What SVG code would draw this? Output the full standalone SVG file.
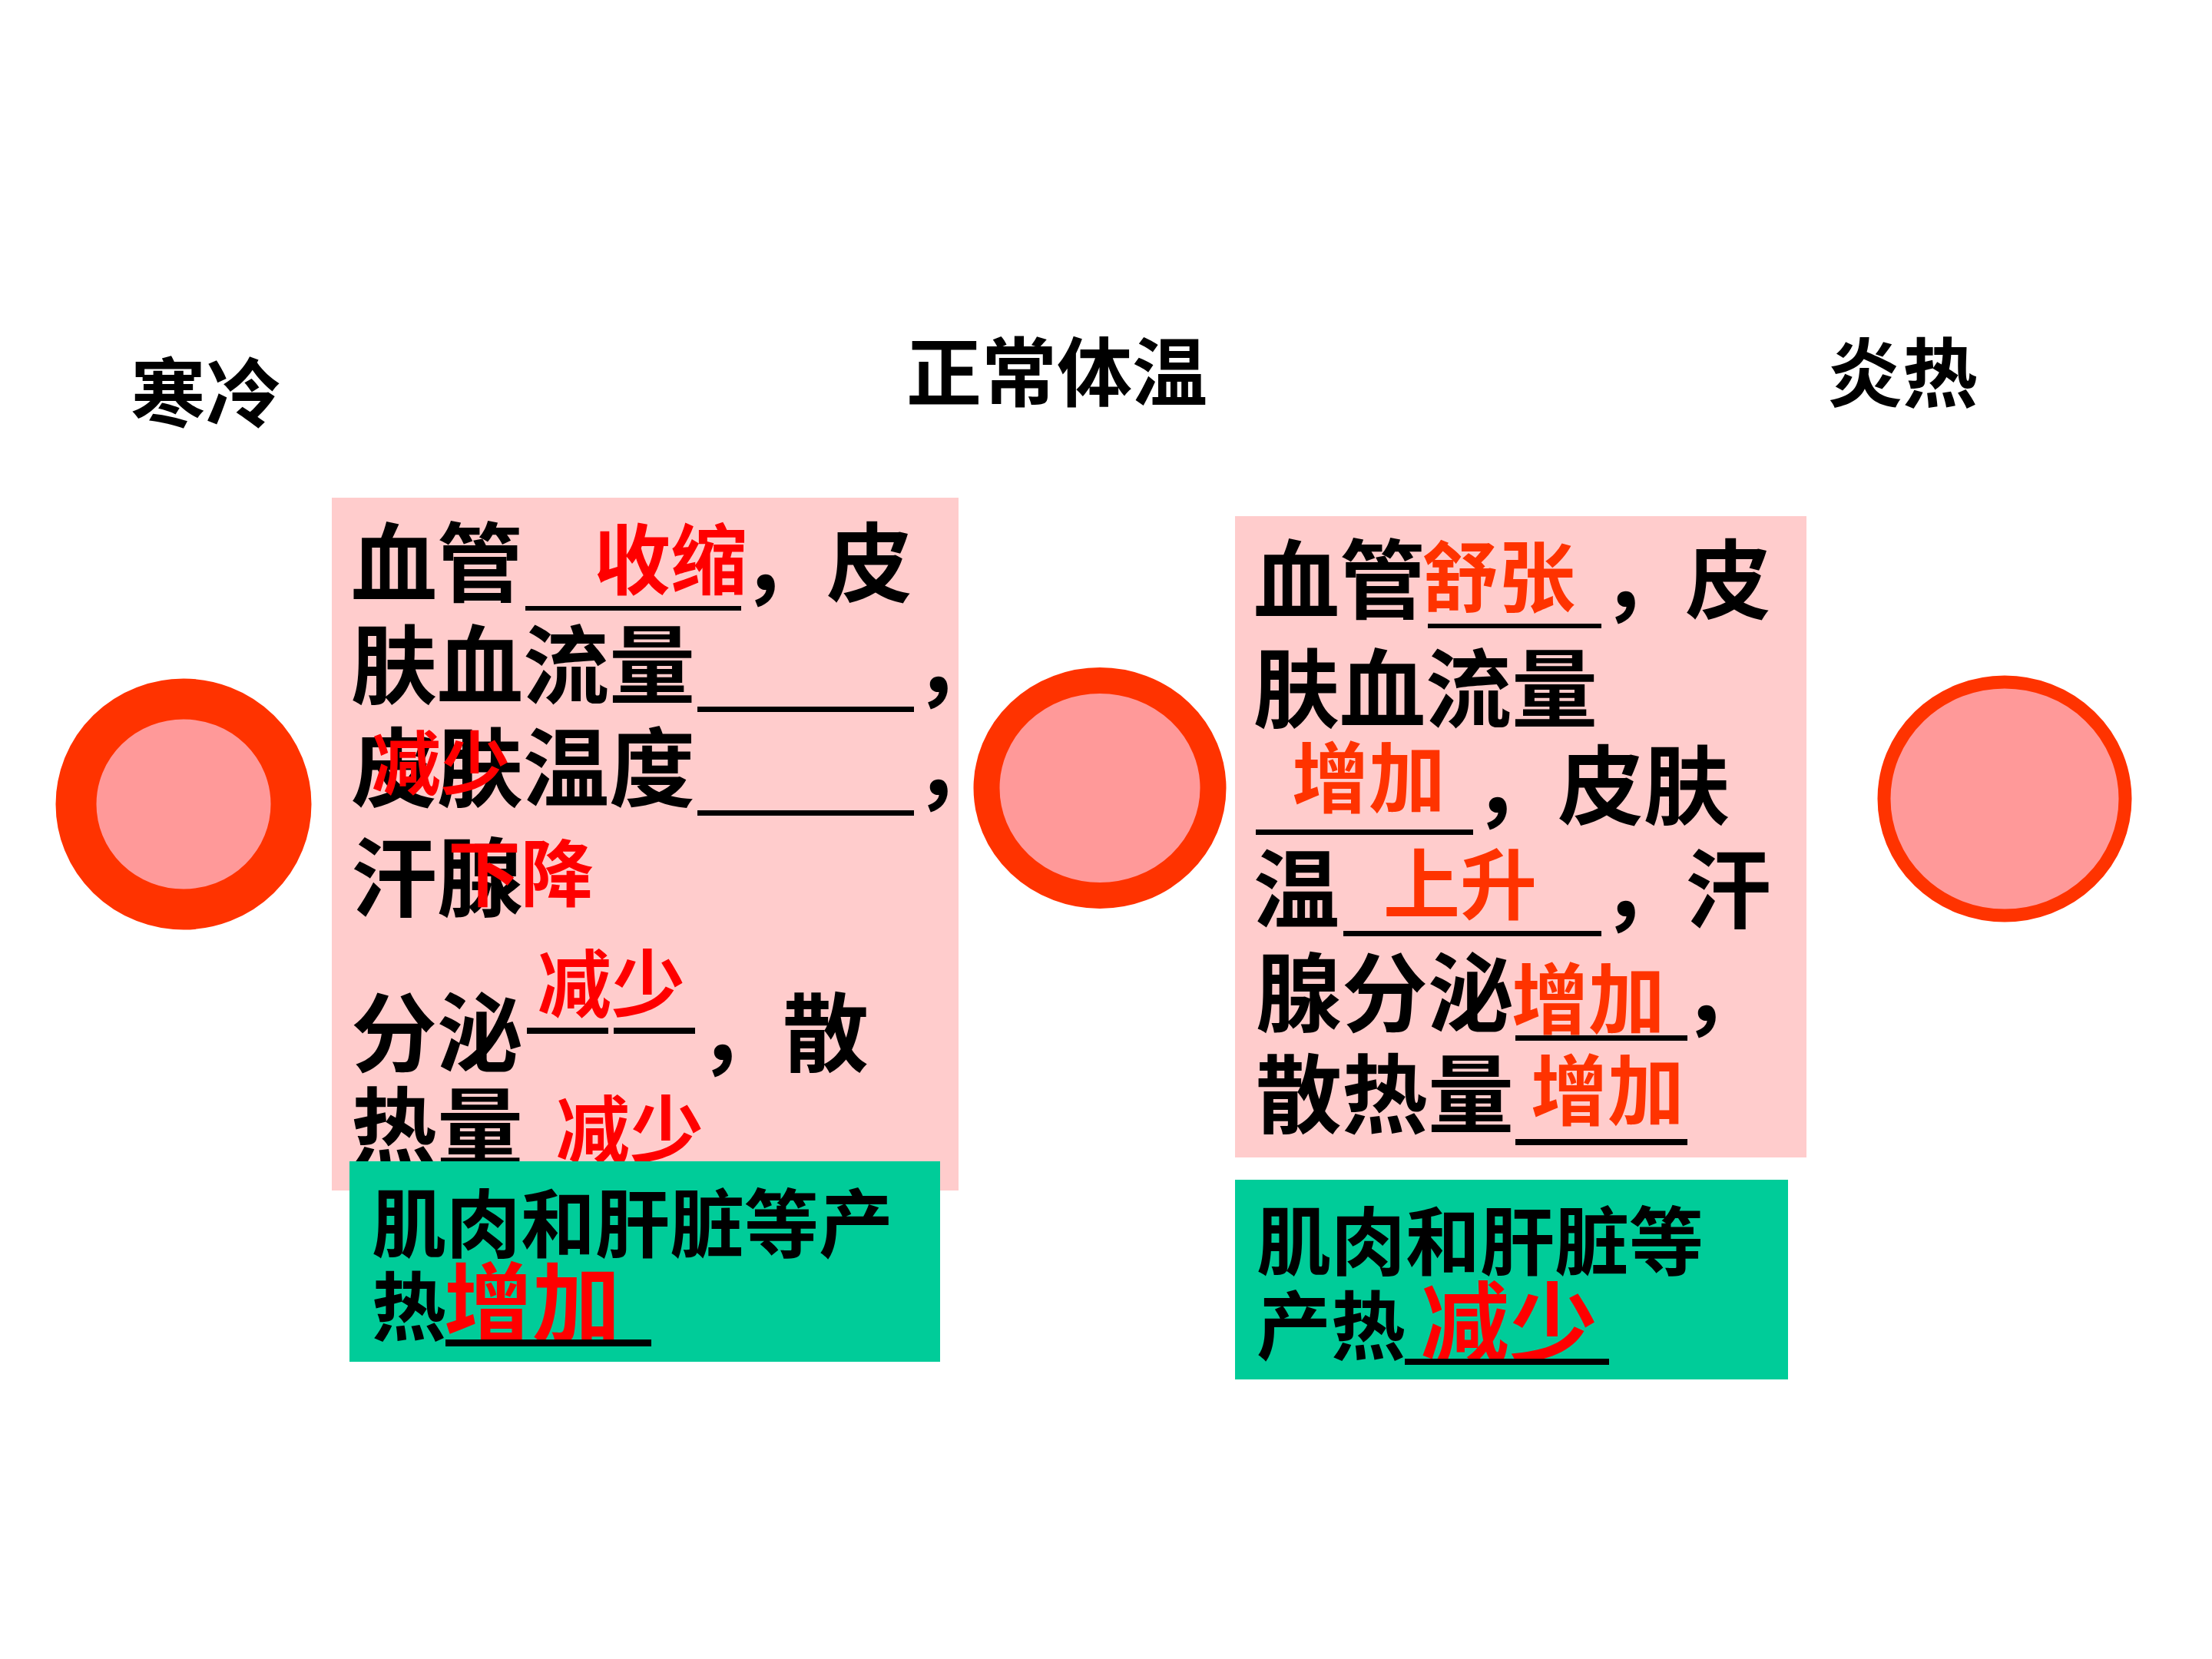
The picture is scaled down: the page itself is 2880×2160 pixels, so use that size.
<svg xmlns="http://www.w3.org/2000/svg" width="2880" height="2160" viewBox="0 0 2880 2160">
<style>
text{font-family:"Noto Sans CJK SC","Noto Sans CJK TC",sans-serif;}
.h{font-size:98px;font-weight:bold;fill:#000;}
.b{font-size:112px;font-weight:bold;fill:#000;}
.g{font-size:97px;font-weight:bold;fill:#000;}
.r{font-size:100px;font-weight:bold;fill:#FF0000;}
.o{font-size:100px;font-weight:bold;fill:#FF3300;}
.rb{font-size:115px;font-weight:bold;fill:#FF0000;}
.u{fill:#000;}
.pink{fill:#FFCCCC;}
.green{fill:#00CC99;}
.ring{fill:#FF9999;stroke:#FF3300;}
</style>
<rect width="2880" height="2160" fill="#FFFFFF"/>

<g id="headers">
<text class="h" x="170" y="548">寒冷</text>
<text class="h" x="1180" y="521">正常体温</text>
<text class="h" x="2379" y="522">炎热</text>
</g>

<g id="circle-cold">
<ellipse class="ring" cx="239" cy="1047" rx="140" ry="137" stroke-width="53"/>
</g>
<g id="circle-normal">
<ellipse class="ring" cx="1432" cy="1026" rx="147.5" ry="140" stroke-width="34"/>
</g>
<g id="circle-hot">
<ellipse class="ring" cx="2610" cy="1040" rx="157" ry="152" stroke-width="17"/>
</g>

<g id="cold-box">
<rect class="pink" x="432" y="648" width="816" height="902"/>
<text class="b" x="457" y="775">血管</text>
<rect class="u" x="684" y="789" width="281" height="6"/>
<text class="r" x="773" y="766">收缩</text>
<text class="b" x="965" y="775">，</text>
<text class="b" x="1076" y="775">皮</text>

<text class="b" x="457" y="908">肤血流量</text>
<rect class="u" x="908" y="920" width="282" height="7"/>
<text class="b" x="1190" y="908">，</text>

<text class="b" x="457" y="1042">皮肤温度</text>
<rect class="u" x="908" y="1055" width="282" height="7"/>
<text class="b" x="1190" y="1042">，</text>
<text class="r" x="484" y="1027" style="font-size:90px">减少</text>

<text class="b" x="457" y="1185">汗腺</text>
<text class="r" x="583" y="1173" style="font-size:95px">下降</text>

<text class="b" x="457" y="1387">分泌</text>
<rect class="u" x="686" y="1338" width="106" height="8"/>
<rect class="u" x="799" y="1338" width="106" height="8"/>
<text class="b" x="909" y="1387">，</text>
<text class="b" x="1019" y="1387">散</text>
<text class="r" x="700" y="1316" style="font-size:96px">减少</text>

<text class="b" x="457" y="1510">热量</text>
<text class="r" x="724" y="1506" style="font-size:96px">减少</text>
</g>

<g id="cold-heat-box">
<rect class="green" x="455" y="1512" width="769" height="261"/>
<text class="g" x="484" y="1629">肌肉和肝脏等产</text>
<text class="g" x="484" y="1737">热</text>
<text class="rb" x="578" y="1740">增加</text>
<rect class="u" x="580" y="1744" width="268" height="9"/>
</g>

<g id="hot-box">
<rect class="pink" x="1608" y="672" width="744" height="835"/>
<text class="b" x="1632" y="797">血管</text>
<text class="o" x="1851" y="789">舒张</text>
<rect class="u" x="1859" y="812" width="226" height="6"/>
<text class="b" x="2085" y="797">，</text>
<text class="b" x="2194" y="797">皮</text>

<text class="b" x="1632" y="939">肤血流量</text>

<text class="o" x="1682" y="1050">增加</text>
<rect class="u" x="1635" y="1080" width="283" height="7"/>
<text class="b" x="1918" y="1065">，</text>
<text class="b" x="2028" y="1065">皮肤</text>

<text class="b" x="1632" y="1200">温</text>
<text class="o" x="1801" y="1189">上升</text>
<rect class="u" x="1749" y="1212" width="336" height="7"/>
<text class="b" x="2085" y="1200">，</text>
<text class="b" x="2194" y="1200">汗</text>

<text class="b" x="1635" y="1335">腺分泌</text>
<text class="o" x="1968" y="1338">增加</text>
<rect class="u" x="1973" y="1348" width="224" height="7"/>
<text class="b" x="2190" y="1336">，</text>

<text class="b" x="1635" y="1467">散热量</text>
<text class="o" x="1993" y="1457">增加</text>
<rect class="u" x="1973" y="1483" width="224" height="8"/>
</g>

<g id="hot-heat-box">
<rect class="green" x="1608" y="1536" width="720" height="260"/>
<text class="g" x="1636" y="1652">肌肉和肝脏等</text>
<text class="g" x="1636" y="1762">产热</text>
<text class="rb" x="1850" y="1765">减少</text>
<rect class="u" x="1829" y="1769" width="266" height="8"/>
</g>
</svg>
